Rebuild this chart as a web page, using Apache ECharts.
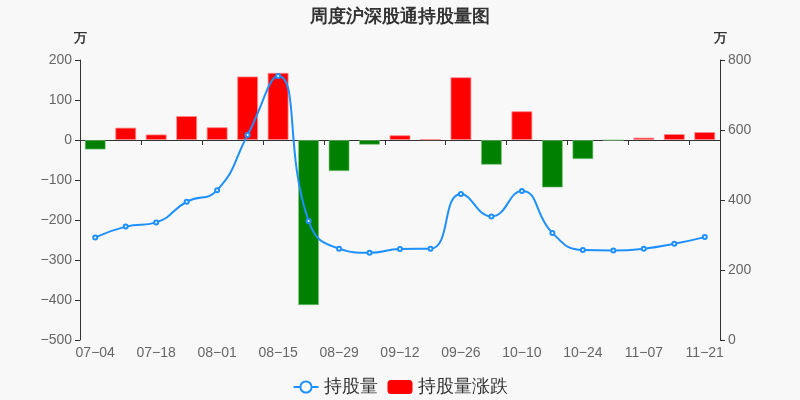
<!DOCTYPE html>
<html>
<head>
<meta charset="utf-8">
<script src="https://cdn.jsdelivr.net/npm/echarts@6/dist/echarts.min.js"></script>
<style>html,body{margin:0;padding:0;background:#f8f8f8;}#main{width:800px;height:400px;}</style>
</head>
<body>
<div id="main"></div>
<script>
var categories = ['07-04','07-11','07-18','07-25','08-01','08-08','08-15','08-22','08-29','09-05','09-12','09-19','09-26','10-03','10-10','10-17','10-24','10-31','11-07','11-14','11-21'];
var holdings = [293, 324, 336, 395, 428, 586, 754, 340, 261, 249, 260, 261, 417, 353, 426, 306, 257, 256, 261, 275, 294];
var changes = [-24, 31, 14, 60, 32, 159, 168, -413, -78, -12, 12, 2, 157, -62, 72, -119, -48, -1, 6, 15, 20];
var leftTicks = {min: -500, max: 200, interval: 100};
var rightTicks = {min: 0, max: 800, interval: 200};

var RED = '#ff0000', GREEN = '#008000';
function minus(s) { return String(s).replace(/-/g, '\u2212'); }
var chart = echarts.init(document.getElementById('main'));
chart.setOption({
  backgroundColor: '#f8f8f8',
  animation: false,
  title: {
    text: '周度沪深股通持股量图', left: 'center', top: 3,
    textStyle: {fontSize: 18, fontWeight: 'bold', color: '#333'}
  },
  legend: {
    top: 373, left: 'center', itemWidth: 25, itemHeight: 14, itemGap: 10,
    textStyle: {fontSize: 18, color: '#333'},
    data: ['持股量', '持股量涨跌']
  },
  grid: {left: 80, right: 80, top: 60, bottom: 60},
  xAxis: [{
    type: 'category', data: categories, position: 'bottom',
    axisLine: {show: false, onZero: false},
    axisTick: {show: false},
    axisLabel: {interval: 1, color: '#666', fontSize: 14, margin: 6, formatter: minus}
  }, {
    type: 'category', data: categories, position: 'top',
    axisLine: {show: true, onZero: true, onZeroAxisIndex: 0, lineStyle: {color: '#333'}},
    axisTick: {show: true, inside: true, interval: 1, length: 5, lineStyle: {color: '#333'}},
    axisLabel: {show: false}
  }],
  yAxis: [{
    type: 'value', position: 'left', min: leftTicks.min, max: leftTicks.max, interval: leftTicks.interval,
    name: '万', nameGap: 15, nameTextStyle: {color: '#333', fontSize: 13, fontWeight: 'bold'},
    axisLine: {show: true, lineStyle: {color: '#333'}},
    axisTick: {show: true, lineStyle: {color: '#333'}},
    axisLabel: {color: '#666', fontSize: 14, formatter: minus},
    splitLine: {show: false}
  }, {
    type: 'value', position: 'right', min: rightTicks.min, max: rightTicks.max, interval: rightTicks.interval,
    name: '万', nameGap: 15, nameTextStyle: {color: '#333', fontSize: 13, fontWeight: 'bold'},
    axisLine: {show: true, lineStyle: {color: '#333'}},
    axisTick: {show: true, lineStyle: {color: '#333'}},
    axisLabel: {color: '#666', fontSize: 14},
    splitLine: {show: false}
  }],
  series: [{
    name: '持股量', type: 'line', xAxisIndex: 0, yAxisIndex: 1, smooth: true,
    symbol: 'emptyCircle', symbolSize: 4, z: 5,
    lineStyle: {color: '#1e90ff', width: 2},
    itemStyle: {color: '#1e90ff', borderColor: '#1e90ff', borderWidth: 1},
    data: holdings
  }, {
    name: '持股量涨跌', type: 'bar', xAxisIndex: 0, yAxisIndex: 0, barWidth: 21,
    itemStyle: {color: RED},
    data: changes.map(function (v) {
      return {value: v, itemStyle: {color: v < 0 ? GREEN : RED, borderColor: v < 0 ? 'rgba(120,200,120,0.6)' : 'rgba(255,140,140,0.8)', borderWidth: 1}};
    })
  }]
});
</script>
</body>
</html>
